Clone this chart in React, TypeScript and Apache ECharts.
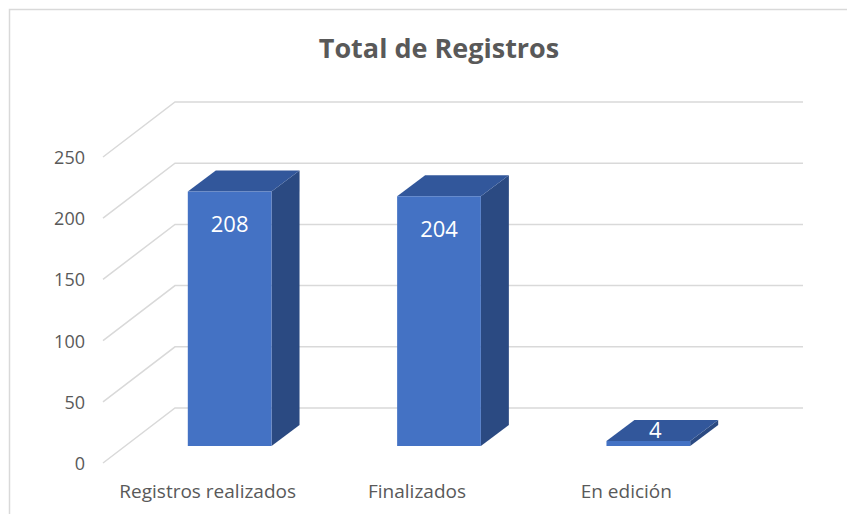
import React, { useEffect, useRef } from "react";
import * as echarts from "echarts";

const categories = ["Registros realizados", "Finalizados", "En edición"];
const values = [208, 204, 4];
const yTicks = [0, 50, 100, 150, 200, 250];
const chartTitle = "Total de Registros";

const FONT = "'Open Sans', 'Noto Sans', sans-serif";
const TEXT_COLOR = "#595959";
const GRID_COLOR = "#d9d9d9";
// perspective offsets (pixels)
const WALL_DX = 72;
const WALL_DY = -55;
const BAR_OX = 22;
const BAR_OY = -17;
const BAR_DX = 28;
const BAR_DY = -21;
const BAR_RATIO = 0.4;

export default function App() {
  const ref = useRef<HTMLDivElement>(null);

  useEffect(() => {
    if (!ref.current) return;
    const chart = echarts.init(ref.current, null, { renderer: "svg" });
    const lastIdx = categories.length - 1;

    const option: any = {
      animation: false,
      backgroundColor: "#ffffff",
      title: {
        text: chartTitle,
        left: 434,
        top: 29,
        textAlign: "center",
        textStyle: {
          fontFamily: FONT,
          fontSize: 27,
          fontWeight: "bold",
          color: TEXT_COLOR,
        },
      },
      graphic: [
        {
          type: "rect",
          shape: { x: 9.5, y: 9.5, width: 900, height: 600 },
          style: { fill: "none", stroke: GRID_COLOR, lineWidth: 1.5 },
          silent: true,
          z: -10,
        },
      ],
      grid: { left: 103, right: 116, top: 157, bottom: 51 },
      xAxis: {
        type: "category",
        data: categories,
        axisLine: { show: false },
        axisTick: { show: false },
        axisLabel: {
          interval: 0,
          hideOverlap: false,
          margin: 18,
          fontFamily: FONT,
          fontSize: 19,
          color: TEXT_COLOR,
        },
      },
      yAxis: {
        type: "value",
        min: 0,
        max: yTicks[yTicks.length - 1],
        interval: yTicks[1] - yTicks[0],
        splitLine: { show: false },
        axisLine: { show: false },
        axisTick: { show: false },
        axisLabel: {
          margin: 18,
          fontFamily: FONT,
          fontSize: 18,
          color: TEXT_COLOR,
        },
      },
      series: [
        {
          type: "custom",
          silent: true,
          z: 1,
          data: yTicks.map((v) => [0, v]),
          encode: { x: 0, y: 1 },
          renderItem: (params: any, api: any) => {
            const v = api.value(1);
            const bw = api.size([1, 0])[0];
            const p0 = api.coord([0, v]);
            const p1 = api.coord([lastIdx, v]);
            const xL = p0[0] - bw / 2;
            const xR = p1[0] + bw / 2;
            const y = p0[1];
            return {
              type: "polyline",
              shape: {
                points: [
                  [xL, y],
                  [xL + WALL_DX, y + WALL_DY],
                  [xR + WALL_DX, y + WALL_DY],
                ],
              },
              style: { stroke: GRID_COLOR, lineWidth: 1.5, fill: "none" },
            };
          },
        },
        {
          type: "custom",
          z: 5,
          data: values.map((v, i) => [i, v]),
          encode: { x: 0, y: 1 },
          renderItem: (params: any, api: any) => {
            const i = api.value(0);
            const v = api.value(1);
            const bw = api.size([1, 0])[0];
            const c0 = api.coord([i, 0]);
            const c1 = api.coord([i, v]);
            const w = bw * BAR_RATIO;
            const x0 = c0[0] - w / 2 + BAR_OX;
            const yb = c0[1] + BAR_OY;
            const yt = c1[1] + BAR_OY;
            const big = yb - yt > 50;
            const labelX = x0 + w / 2 + (big ? 0 : 7);
            const labelY = big ? yt + 32 : yt - 12;
            return {
              type: "group",
              children: [
                {
                  type: "polygon",
                  shape: {
                    points: [
                      [x0 + w, yt],
                      [x0 + w + BAR_DX, yt + BAR_DY],
                      [x0 + w + BAR_DX, yb + BAR_DY],
                      [x0 + w, yb],
                    ],
                  },
                  style: { fill: "#2B4A82" },
                },
                {
                  type: "polygon",
                  shape: {
                    points: [
                      [x0, yt],
                      [x0 + BAR_DX, yt + BAR_DY],
                      [x0 + w + BAR_DX, yt + BAR_DY],
                      [x0 + w, yt],
                    ],
                  },
                  style: { fill: "#32579B" },
                },
                {
                  type: "rect",
                  shape: { x: x0, y: yt, width: w, height: yb - yt },
                  style: { fill: "#4472C4" },
                },
                {
                  type: "text",
                  x: labelX,
                  y: labelY,
                  style: {
                    text: String(v),
                    fill: "#ffffff",
                    font: `22px ${FONT}`,
                    align: "center",
                    verticalAlign: "middle",
                  },
                  z2: 10,
                },
              ],
            };
          },
        },
      ],
    };

    chart.setOption(option);
    return () => chart.dispose();
  }, []);

  return (
    <div
      ref={ref}
      style={{ position: "fixed", left: 0, top: 0, width: 847, height: 514 }}
    />
  );
}
